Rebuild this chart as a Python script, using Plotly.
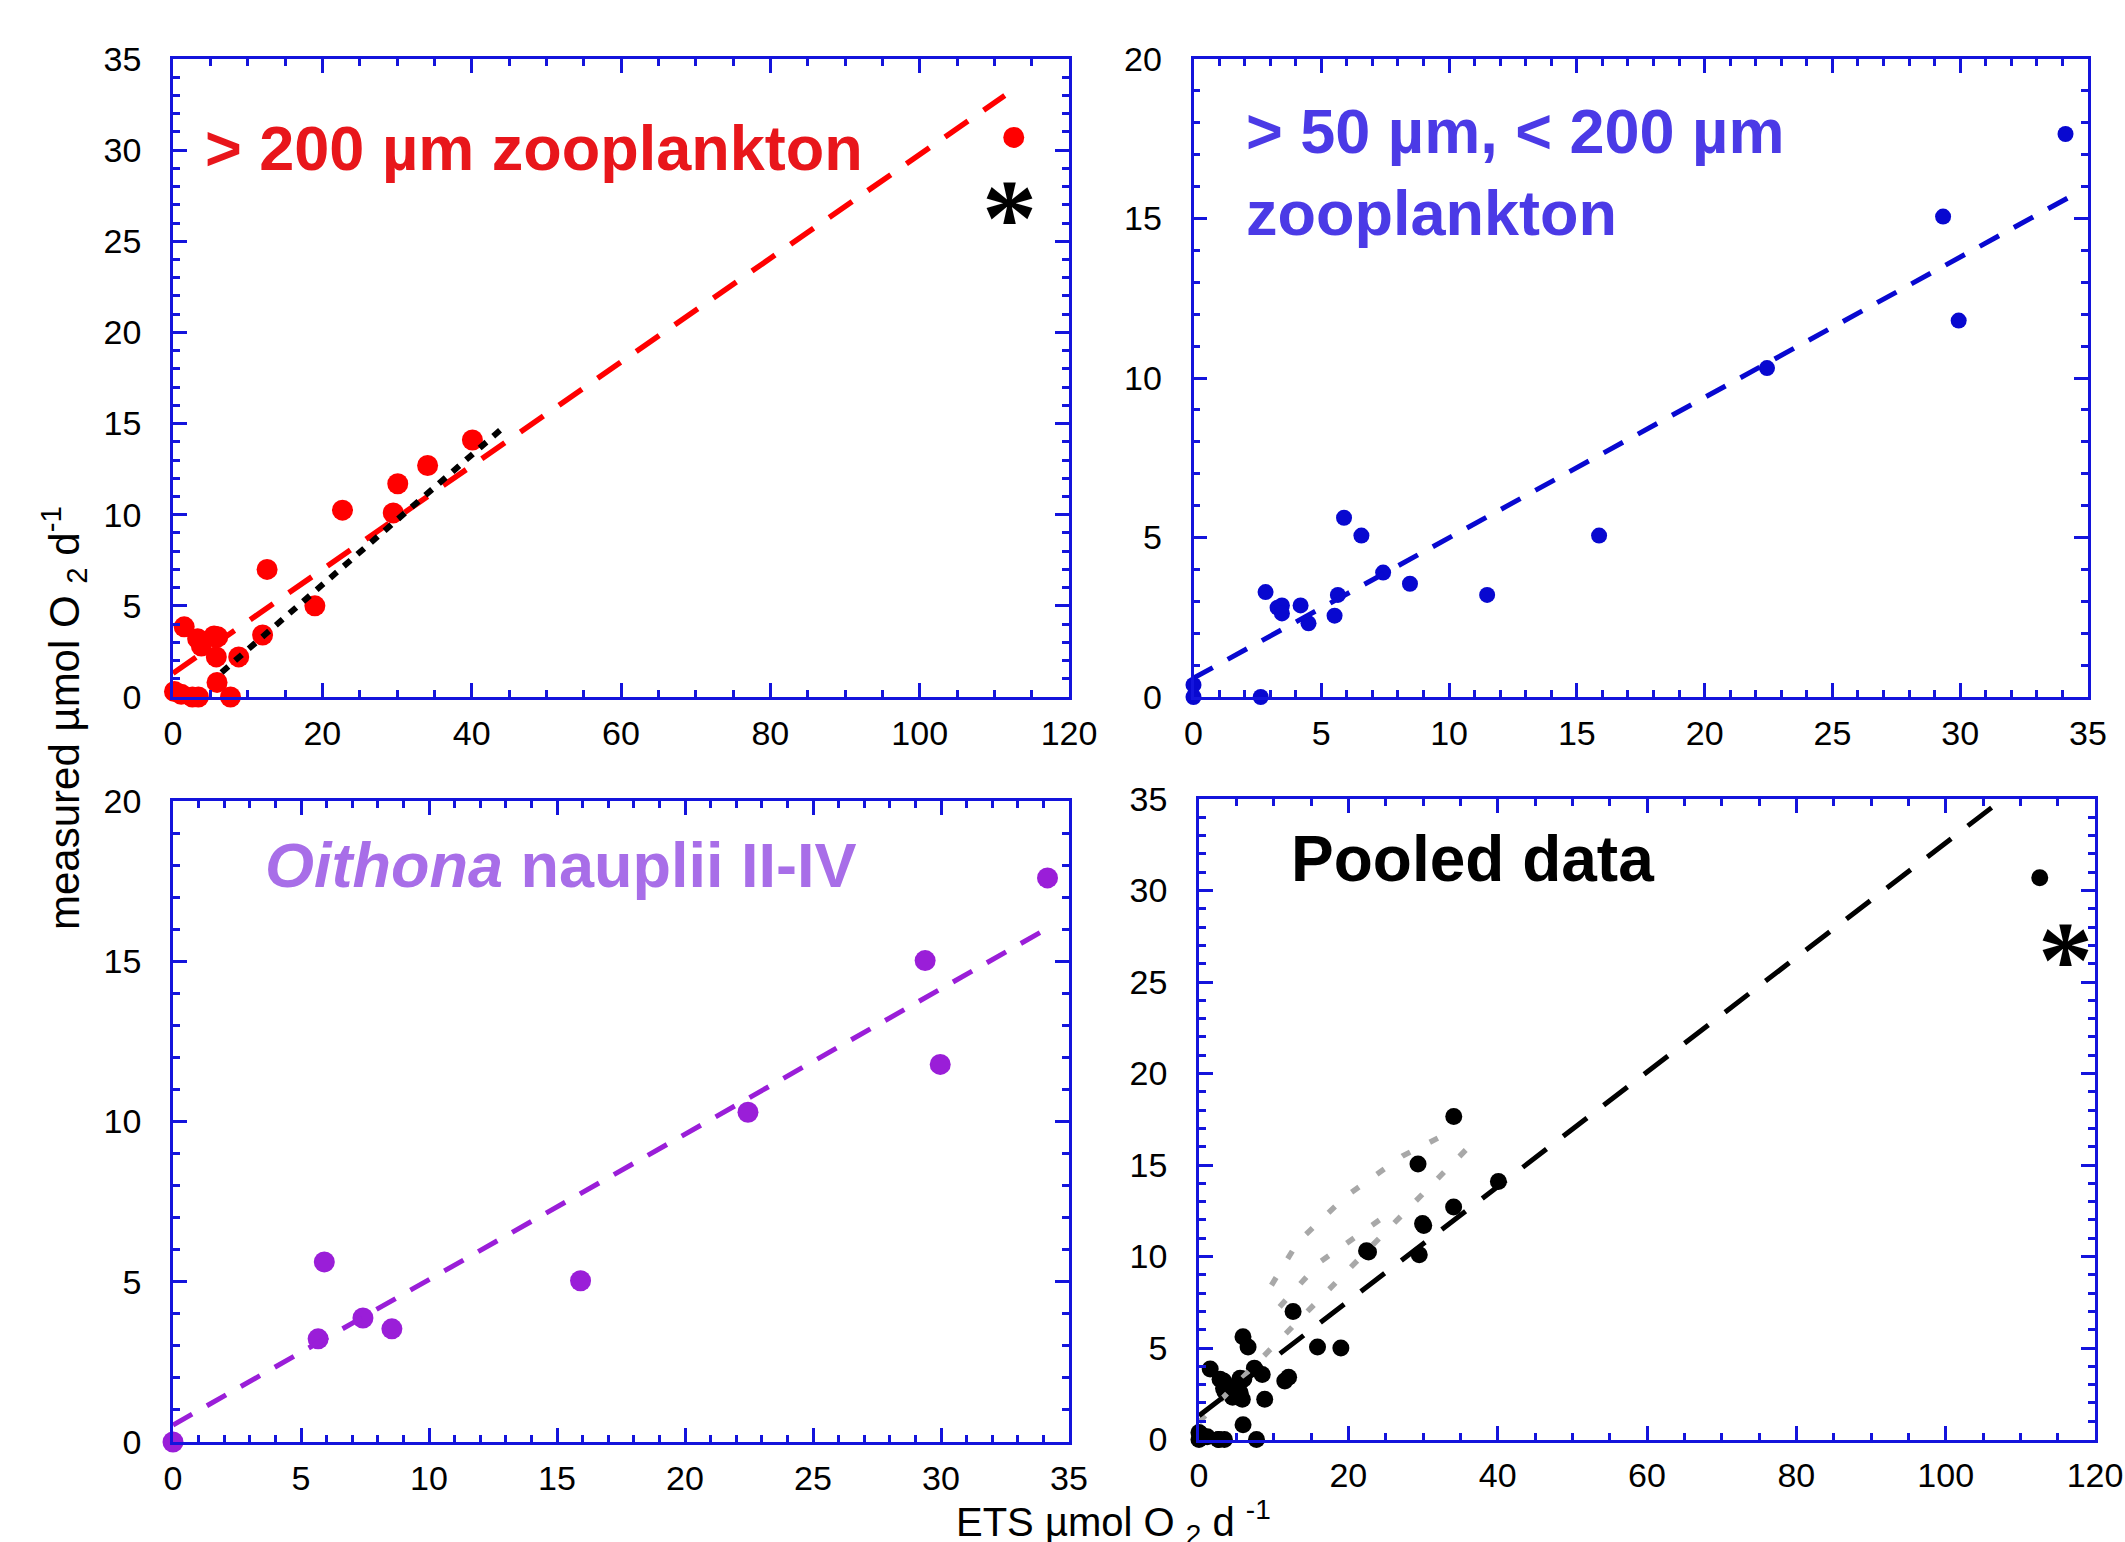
import plotly.graph_objects as go

W, H = 2125, 1542

# ---------------- data ----------------
# > 200 um zooplankton (panel 1)
z200_x = [0.2, 1.1, 1.5, 2.6, 3.3, 3.4, 3.8, 5.5, 5.8, 5.9, 6.0, 7.7, 8.8, 12.0, 12.6, 19.0, 22.7, 29.5, 30.1, 34.1, 40.1, 112.6]
z200_y = [0.3, 0.15, 3.85, 0.0, 3.2, 0.0, 2.8, 3.35, 2.2, 0.8, 3.3, 0.0, 2.2, 3.4, 7.0, 5.0, 10.25, 10.1, 11.7, 12.7, 14.1, 30.7]
z200_fit_x = [0.0, 111.4]
z200_fit_y = [1.3, 33.0]
z200_fit2_x = [6.5, 44.7]
z200_fit2_y = [1.35, 14.95]

# > 50 um, < 200 um zooplankton (panel 2)
z50_x = [0.0, 0.0, 2.63, 2.82, 3.29, 3.46, 3.46, 4.19, 4.5, 5.52, 5.65, 5.89, 6.57, 7.42, 8.47, 11.49, 15.87, 22.44, 29.33, 29.94, 34.12]
z50_y = [0.0, 0.38, 0.0, 3.29, 2.8, 2.87, 2.62, 2.87, 2.31, 2.55, 3.2, 5.62, 5.06, 3.9, 3.55, 3.2, 5.06, 10.31, 15.06, 11.8, 17.65]
z50_fit_x = [0.0, 34.2]
z50_fit_y = [0.59, 15.64]

# Oithona nauplii II-IV (panel 3)
oit_x = [0.0, 5.67, 5.91, 7.42, 8.55, 15.92, 22.46, 29.38, 29.97, 34.16]
oit_y = [0.0, 3.22, 5.62, 3.87, 3.53, 5.03, 10.29, 15.02, 11.78, 17.6]
oit_fit_x = [0.0, 34.1]
oit_fit_y = [0.53, 16.0]

# Pooled data (panel 4)
pool_x = z200_x + z50_x
pool_y = z200_y + z50_y
pool_fit_x = [0.0, 107.5]
pool_fit_y = [1.3, 34.95]
grey1_x = [0.0, 37.0]
grey1_y = [0.95, 16.35]
grey2_x = [9.7, 13.26, 19.7, 27.3, 33.6]
grey2_y = [8.43, 10.8, 13.3, 15.5, 16.8]
grey3_x = [10.8, 16.2, 24.2]
grey3_y = [7.25, 9.7, 12.0]

# ---------------- styles ----------------
AXC = "#1414DC"
FONT = "Arial, Liberation Sans, sans-serif"

fig = go.Figure()

def pts(x, y, color, size, xa, ya):
    fig.add_trace(go.Scatter(x=x, y=y, mode="markers", xaxis=xa, yaxis=ya,
                             marker=dict(color=color, size=size, line=dict(width=0)),
                             cliponaxis=False, hoverinfo="skip"))

def line(x, y, color, width, dash, xa, ya):
    fig.add_trace(go.Scatter(x=x, y=y, mode="lines", xaxis=xa, yaxis=ya,
                             line=dict(color=color, width=width, dash=dash),
                             hoverinfo="skip"))

# panel 1
pts(z200_x, z200_y, "#FF0000", 21, "x", "y")
line(z200_fit_x, z200_fit_y, "#FF0000", 5.5, "28px,19px", "x", "y")
line(z200_fit2_x, z200_fit2_y, "#000000", 6, "9px,9px", "x", "y")
# panel 2
pts(z50_x, z50_y, "#0808D0", 16, "x2", "y2")
line(z50_fit_x, z50_fit_y, "#0808D0", 5, "22px,17px", "x2", "y2")
# panel 3
pts(oit_x, oit_y, "#9A1ED8", 21, "x3", "y3")
line(oit_fit_x, oit_fit_y, "#9A1ED8", 5, "22px,17px", "x3", "y3")
# panel 4
pts(pool_x, pool_y, "#000000", 17, "x4", "y4")
line(grey1_x, grey1_y, "#A8A8A8", 5.5, "9px,22px", "x4", "y4")
line(grey2_x, grey2_y, "#A8A8A8", 5.5, "9px,22px", "x4", "y4")
line(grey3_x, grey3_y, "#A8A8A8", 5.5, "9px,22px", "x4", "y4")
line(pool_fit_x, pool_fit_y, "#000000", 5, "30px,21px", "x4", "y4")


def ax(domain, rng, dtick, mdtick, anchor):
    return dict(domain=domain, range=rng, dtick=dtick, tick0=0, anchor=anchor,
                automargin=False,
                showline=True, linecolor=AXC, linewidth=2.7, mirror="allticks",
                ticks="inside", ticklen=14, tickwidth=2.5, tickcolor=AXC,
                showgrid=False, zeroline=False,
                tickfont=dict(family=FONT, size=34, color="#000000"),
                minor=dict(dtick=mdtick, tick0=0, ticks="inside", ticklen=7,
                           tickwidth=2.5, tickcolor=AXC, showgrid=False))

def fx(a, b):
    return [a / W, b / W]

def fy(top, bottom):
    return [(H - bottom) / H, (H - top) / H]

xa1 = ax(fx(173, 1069), [0, 120], 20, 5, "y")
ya1 = ax(fy(59, 697), [0, 35], 5, 1, "x")
xa2 = ax(fx(1193.5, 2088), [0, 35], 5, 1, "y2")
ya2 = ax(fy(59, 697), [0, 20], 5, 1, "x2")
xa3 = ax(fx(173, 1069), [0, 35], 5, 1, "y3")
ya3 = ax(fy(801, 1442), [0, 20], 5, 1, "x3")
xa4 = ax(fx(1199, 2095), [0, 120], 20, 5, "y4")
ya4 = ax(fy(799, 1439.5), [0, 35], 5, 1, "x4")
for a in (xa1, xa2, xa3, xa4):
    a["ticklabelstandoff"] = 4
for a in (ya1, ya2, ya3, ya4):
    a["ticklabelstandoff"] = 22

anns = [
    dict(text="<b>> 200 µm zooplankton</b>", x=4.0, y=30.1, xref="x", yref="y",
         xanchor="left", yanchor="middle", showarrow=False,
         font=dict(family=FONT, size=63, color="#E8161B")),
    dict(text="<b>> 50 µm, < 200 µm<br>zooplankton</b>", x=1.98, y=16.45, xref="x2", yref="y2",
         xanchor="left", yanchor="middle", align="left", showarrow=False,
         font=dict(family=FONT, size=63, color="#4B3AE6")),
    dict(text="<b><i>Oithona</i> nauplii II-IV</b>", x=3.5, y=18.0, xref="x3", yref="y3",
         xanchor="left", yanchor="middle", showarrow=False,
         font=dict(family=FONT, size=63, color="#A86EE8")),
    dict(text="<b>Pooled data</b>", x=12.1, y=31.7, xref="x4", yref="y4",
         xanchor="left", yanchor="middle", showarrow=False,
         font=dict(family=FONT, size=64, color="#000000")),
    dict(text="<b>*</b>", x=112.0, y=26.3, xref="x", yref="y", xanchor="center", yanchor="middle",
         showarrow=False, font=dict(family="Liberation Serif, Times New Roman", size=110, color="#000000")),
    dict(text="<b>*</b>", x=116.0, y=26.2, xref="x4", yref="y4", xanchor="center", yanchor="middle",
         showarrow=False, font=dict(family="Liberation Serif, Times New Roman", size=110, color="#000000")),
    dict(text="measured µmol O <sub>2</sub> d<sup>-1</sup>", x=63 / W, y=(H - 718) / H,
         xref="paper", yref="paper", xanchor="center", yanchor="middle", textangle=-90,
         showarrow=False, font=dict(family=FONT, size=42, color="#000000")),
    dict(text="ETS µmol O <sub>2</sub> d <sup>-1</sup>", x=1113 / W, y=(H - 1522) / H,
         xref="paper", yref="paper", xanchor="center", yanchor="middle",
         showarrow=False, font=dict(family=FONT, size=40, color="#000000")),
]

fig.update_layout(width=W, height=H, margin=dict(l=0, r=0, t=0, b=0),
                  paper_bgcolor="white", plot_bgcolor="white", showlegend=False,
                  xaxis=xa1, yaxis=ya1, xaxis2=xa2, yaxis2=ya2,
                  xaxis3=xa3, yaxis3=ya3, xaxis4=xa4, yaxis4=ya4,
                  annotations=anns)

fig.write_html("out.html")
